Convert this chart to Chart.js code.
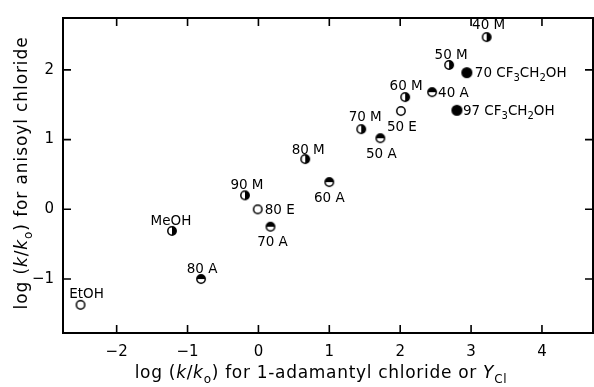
<!DOCTYPE html>
<html>
<head>
<meta charset="utf-8">
<script src="https://cdn.jsdelivr.net/npm/chart.js@4.4.0/dist/chart.umd.min.js"></script>
<style>
  html, body { margin: 0; padding: 0; background: #fff; }
  #chart { display: block; }
</style>
</head>
<body>
<canvas id="chart" width="594" height="387"></canvas>
<script>
// methanol-water (right half filled)
var mLabels = ['40 M', '50 M', '60 M', '70 M', '80 M', '90 M', 'MeOH'];
var mX = [3.22, 2.69, 2.07, 1.45, 0.66, -0.19, -1.22];
var mY = [2.47, 2.07, 1.61, 1.15, 0.72, 0.20, -0.31];

// acetone-water (top half filled)
var aLabels = ['40 A', '50 A', '60 A', '70 A', '80 A'];
var aX = [2.45, 1.72, 1.00, 0.17, -0.81];
var aY = [1.68, 1.02, 0.39, -0.25, -1.00];

// ethanol-water (open)
var eLabels = ['50 E', '80 E', 'EtOH'];
var eX = [2.01, -0.01, -2.51];
var eY = [1.41, 0.00, -1.37];

// trifluoroethanol (filled)
var tLabels = ['70 CF_3CH_2OH', '97 CF_3CH_2OH'];
var tX = [2.94, 2.80];
var tY = [1.96, 1.42];

var xTitle = 'log (*k*/*k*_o) for 1-adamantyl chloride or *Y*_{Cl}';
var yTitle = 'log (*k*/*k*_o) for anisoyl chloride';

var FONT = '"DejaVu Sans"';

// label offset from point: dx, dy (to text middle), align
var labelPos = {
  '40 M': [2, -13, 'center'],
  '50 M': [2, -11, 'center'],
  '60 M': [1, -12, 'center'],
  '70 M': [4, -13, 'center'],
  '80 M': [3, -10, 'center'],
  '90 M': [2, -11, 'center'],
  'MeOH': [-1, -11, 'center'],
  '40 A': [6, 0, 'left'],
  '50 A': [1, 15, 'center'],
  '60 A': [0, 15, 'center'],
  '70 A': [2, 14, 'center'],
  '80 A': [1, -11, 'center'],
  '50 E': [1, 15, 'center'],
  '80 E': [7, 0, 'left'],
  'EtOH': [6, -12, 'center'],
  '70 CF_3CH_2OH': [8, -1, 'left'],
  '97 CF_3CH_2OH': [6, 0, 'left']
};

function toPoints(xs, ys) {
  var pts = [];
  for (var i = 0; i < xs.length; i++) pts.push({x: xs[i], y: ys[i]});
  return pts;
}

// marker images
function makeMarker(kind, r) {
  var c = document.createElement('canvas');
  var s = Math.ceil(2 * r + 3);
  c.width = s; c.height = s;
  var g = c.getContext('2d');
  var m = s / 2;
  g.beginPath();
  g.arc(m, m, r, 0, Math.PI * 2);
  g.fillStyle = kind == 'filled' ? '#000' : '#fff';
  g.fill();
  g.fillStyle = '#000';
  if (kind == 'right') {
    g.beginPath();
    g.arc(m, m, r, -Math.PI / 2, Math.PI / 2);
    g.closePath();
    g.fill();
  } else if (kind == 'top') {
    g.beginPath();
    g.arc(m, m, r, Math.PI, Math.PI * 2);
    g.closePath();
    g.fill();
  }
  g.beginPath();
  g.arc(m, m, r, 0, Math.PI * 2);
  g.lineWidth = 1.5;
  g.strokeStyle = '#000';
  g.stroke();
  return c;
}

function parseRuns(str) {
  var runs = [], italic = false, i = 0;
  while (i < str.length) {
    var c = str[i];
    if (c == '*') { italic = !italic; i++; continue; }
    if (c == '_') {
      var t;
      if (str[i + 1] == '{') {
        var e = str.indexOf('}', i);
        t = str.slice(i + 2, e);
        i = e + 1;
      } else {
        t = str[i + 1];
        i += 2;
      }
      runs.push({t: t, it: italic, sub: true});
      continue;
    }
    var last = runs[runs.length - 1];
    if (last && !last.sub && last.it == italic) last.t += c;
    else runs.push({t: c, it: italic, sub: false});
    i++;
  }
  return runs;
}

function runFont(r, size) {
  var s = r.sub ? Math.round(size * 0.72) : size;
  return (r.it ? 'italic ' : '') + s + 'px ' + FONT;
}

function drawRuns(ctx, str, x, y, size, align, spacing) {
  var runs = parseRuns(str);
  var w = 0;
  ctx.letterSpacing = (spacing || 0) + 'px';
  runs.forEach(function (r) {
    ctx.font = runFont(r, size);
    r.w = ctx.measureText(r.t).width;
    w += r.w;
  });
  var cx = align == 'center' ? x - w / 2 : x;
  ctx.textBaseline = 'alphabetic';
  ctx.textAlign = 'left';
  runs.forEach(function (r) {
    ctx.font = runFont(r, size);
    ctx.fillText(r.t, cx, r.sub ? y + size * 0.3 : y);
    cx += r.w;
  });
  ctx.letterSpacing = '0px';
}

var framePlugin = {
  id: 'frame',
  afterDraw: function (chart) {
    var ctx = chart.ctx, a = chart.chartArea;
    var xs = chart.scales.x, ys = chart.scales.y;
    ctx.save();
    ctx.strokeStyle = '#000';
    ctx.lineWidth = 2;
    ctx.strokeRect(a.left, a.top, a.right - a.left, a.bottom - a.top);
    ctx.lineWidth = 1.6;
    ctx.beginPath();
    xs.ticks.forEach(function (t) {
      var px = xs.getPixelForValue(t.value);
      ctx.moveTo(px, a.bottom); ctx.lineTo(px, a.bottom - 8);
      ctx.moveTo(px, a.top); ctx.lineTo(px, a.top + 8);
    });
    ys.ticks.forEach(function (t) {
      var py = ys.getPixelForValue(t.value);
      ctx.moveTo(a.left, py); ctx.lineTo(a.left + 8, py);
      ctx.moveTo(a.right, py); ctx.lineTo(a.right - 8, py);
    });
    ctx.stroke();

    // point labels
    ctx.fillStyle = '#000';
    chart.data.datasets.forEach(function (ds, di) {
      var meta = chart.getDatasetMeta(di);
      ds.labels.forEach(function (lb, i) {
        var el = meta.data[i];
        var p = labelPos[lb];
        drawRuns(ctx, lb, el.x + p[0], el.y + p[1] + 5, 13.5, p[2]);
      });
    });

    // axis titles
    drawRuns(ctx, xTitle, 321, 378, 17, 'center', 0.7);
    ctx.translate(27, 173);
    ctx.rotate(-Math.PI / 2);
    drawRuns(ctx, yTitle, 0, 0, 17, 'center', 0.9);
    ctx.restore();
  }
};

function tickLabel(v) {
  return v < 0 ? '\u2212' + Math.abs(v) : '' + v;
}

new Chart(document.getElementById('chart'), {
  type: 'scatter',
  data: {
    datasets: [
      {labels: mLabels, data: toPoints(mX, mY), pointStyle: makeMarker('right', 4.2)},
      {labels: aLabels, data: toPoints(aX, aY), pointStyle: makeMarker('top', 4.2)},
      {labels: eLabels, data: toPoints(eX, eY), pointStyle: makeMarker('open', 4.2)},
      {labels: tLabels, data: toPoints(tX, tY), pointStyle: makeMarker('filled', 4.8)}
    ]
  },
  options: {
    responsive: false,
    animation: false,
    devicePixelRatio: 1,
    layout: {autoPadding: false, padding: {top: 13, right: 1, left: 0, bottom: 0}},
    plugins: {legend: {display: false}, tooltip: {enabled: false}},
    scales: {
      x: {
        min: -2.757, max: 4.72,
        grid: {display: false, drawTicks: false},
        border: {display: false},
        ticks: {stepSize: 1, includeBounds: false, padding: 10, color: '#000',
                font: {family: FONT, size: 15}, callback: tickLabel},
        afterFit: function (s) { s.height = 54; }
      },
      y: {
        min: -1.774, max: 2.744,
        grid: {display: false, drawTicks: false},
        border: {display: false},
        ticks: {stepSize: 1, includeBounds: false, padding: 9, color: '#000',
                font: {family: FONT, size: 15}, callback: tickLabel},
        afterFit: function (s) { s.width = 63; }
      }
    }
  },
  plugins: [framePlugin]
});
</script>
</body>
</html>
